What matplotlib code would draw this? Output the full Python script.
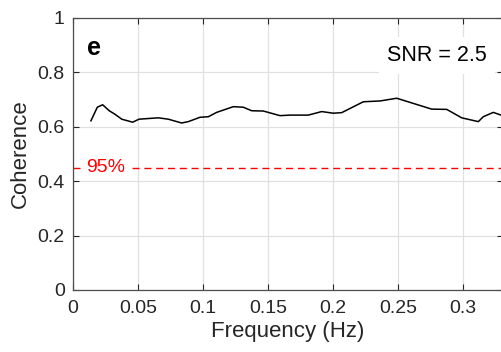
import matplotlib.pyplot as plt

plt.rcParams['font.family'] = ['Liberation Sans', 'DejaVu Sans']

# coherence curve
freq = [0.0138, 0.0187, 0.0228, 0.0279, 0.0323, 0.0375, 0.0459, 0.0508, 0.0656,
        0.0733, 0.0836, 0.0887, 0.0977, 0.1041, 0.1105, 0.1233, 0.1310, 0.1375,
        0.1464, 0.1592, 0.1669, 0.1810, 0.1913, 0.2002, 0.2067, 0.2233, 0.2362,
        0.2490, 0.2618, 0.2759, 0.2875, 0.2990, 0.3118, 0.3156, 0.3233, 0.3292]
coherence = [0.622, 0.672, 0.681, 0.659, 0.646, 0.628, 0.617, 0.628, 0.633,
             0.628, 0.614, 0.619, 0.635, 0.637, 0.653, 0.674, 0.672, 0.659,
             0.658, 0.641, 0.643, 0.643, 0.656, 0.650, 0.652, 0.692, 0.695,
             0.705, 0.686, 0.665, 0.664, 0.633, 0.619, 0.637, 0.653, 0.643]
threshold = 0.45
xticks = [0, 0.05, 0.1, 0.15, 0.2, 0.25, 0.3]
xticklabels = ['0', '0.05', '0.1', '0.15', '0.2', '0.25', '0.3']
yticks = [0, 0.2, 0.4, 0.6, 0.8, 1]
yticklabels = ['0', '0.2', '0.4', '0.6', '0.8', '1']

fig = plt.figure(figsize=(5.01, 3.52), dpi=100)
ax = fig.add_axes([73 / 501, 62 / 352, 430 / 501, 272 / 352])

ax.plot(freq, coherence, color='black', lw=1.1, zorder=3)
ax.axhline(threshold, color='red', lw=1.0, ls=(0, (5, 3.5)), zorder=2)
ax.text(0.0254, threshold, '95%', color='red', fontsize=14, ha='center',
        va='center', zorder=4,
        bbox=dict(facecolor='white', edgecolor='none', pad=3))

ax.text(0.0108, 0.89, 'e', fontsize=18, fontweight='bold', ha='left',
        va='center', zorder=4)
ax.text(0.3185, 0.862, 'SNR = 2.5', fontsize=15.5, ha='right', va='center',
        zorder=4, bbox=dict(facecolor='white', edgecolor='none', pad=6))

ax.set_xlim(0, 430 / 1300)
ax.set_ylim(0, 1)
ax.set_xticks(xticks)
ax.set_xticklabels(xticklabels)
ax.set_yticks(yticks)
ax.set_yticklabels(yticklabels)
ax.grid(True, color='#e0e0e0', lw=0.9)
ax.set_axisbelow(True)
ax.tick_params(direction='in', top=True, right=True, length=4, width=0.8,
               labelsize=14, colors='#262626')
ax.tick_params(axis='x', pad=7)
ax.tick_params(axis='y', pad=6)
for s in ax.spines.values():
    s.set_color('#4d4d4d')
    s.set_linewidth(0.9)

ax.set_xlabel('Frequency (Hz)', fontsize=16, color='#262626', labelpad=3)
ax.set_ylabel('Coherence', fontsize=16, color='#262626', labelpad=5)

fig.savefig('out.png', dpi=100)
